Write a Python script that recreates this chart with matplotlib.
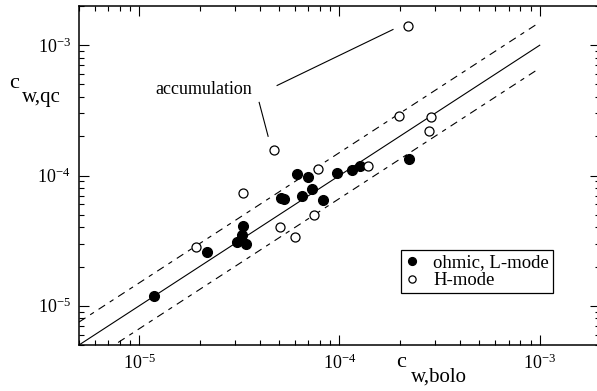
import matplotlib
matplotlib.use('Agg')
import matplotlib.pyplot as plt
from matplotlib.ticker import LogLocator, NullFormatter, FixedFormatter
import numpy as np

plt.rcParams['font.family'] = ['Liberation Serif', 'DejaVu Serif']
plt.rcParams['mathtext.fontset'] = 'custom'
plt.rcParams['mathtext.rm'] = 'Liberation Serif'
plt.rcParams['mathtext.it'] = 'Liberation Serif:italic'

# ohmic, L-mode (filled)
ohm_bolo = [1.19e-5, 2.19e-5, 3.30e-5, 3.25e-5, 3.09e-5, 3.42e-5, 5.11e-5, 5.31e-5,
            6.16e-5, 6.93e-5, 6.52e-5, 7.31e-5, 8.25e-5, 9.68e-5, 1.16e-4, 1.26e-4, 2.22e-4]
ohm_qc = [1.18e-5, 2.61e-5, 4.13e-5, 3.52e-5, 3.08e-5, 2.97e-5, 6.68e-5, 6.65e-5,
          1.02e-4, 9.8e-5, 6.97e-5, 7.83e-5, 6.46e-5, 1.05e-4, 1.10e-4, 1.19e-4, 1.35e-4]

# H-mode (open)
h_bolo = [1.92e-5, 3.31e-5, 4.71e-5, 5.07e-5, 5.98e-5, 7.46e-5, 7.78e-5, 1.38e-4,
          1.98e-4, 2.86e-4, 2.79e-4, 2.19e-4]
h_qc = [2.85e-5, 7.31e-5, 1.56e-4, 4.06e-5, 3.39e-5, 4.98e-5, 1.13e-4, 1.18e-4,
        2.86e-4, 2.81e-4, 2.19e-4, 1.40e-3]

# reference lines y = x and y = x*1.5, x/1.5
ref_x = np.array([5e-6, 1e-3])
band = 1.5

# annotation leader lines
lead1_x = [3.97e-5, 4.40e-5]
lead1_y = [3.64e-4, 2.0e-4]
lead2_x = [4.88e-5, 1.85e-4]
lead2_y = [4.91e-4, 1.32e-3]
note_xy = (2.11e-5, 4.58e-4)

W, H = 597, 391
fig = plt.figure(figsize=(W / 100, H / 100), dpi=100)
ax = fig.add_axes([79 / W, (H - 345) / H, 521 / W, 339 / H])
ax.set_xscale('log')
ax.set_yscale('log')
ax.set_xlim(5e-6, 2e-3)
ax.set_ylim(5e-6, 2e-3)

ax.plot(ref_x, ref_x, 'k-', lw=0.8)
ax.plot(ref_x, ref_x * band, 'k', lw=0.8, dashes=(7, 5, 4, 5))
ax.plot(ref_x, ref_x / band, 'k', lw=0.8, dashes=(7, 5, 4, 5))

ax.plot(ohm_bolo, ohm_qc, 'o', color='k', ms=7, ls='none', label='ohmic, L-mode')
ax.plot(h_bolo, h_qc, 'o', mfc='white', mec='k', mew=0.9, ms=6.5, ls='none', label='H-mode')

ax.plot(lead1_x, lead1_y, 'k-', lw=0.8)
ax.plot(lead2_x, lead2_y, 'k-', lw=0.8)
ax.text(note_xy[0], note_xy[1], 'accumulation', fontsize=13, ha='center', va='center')

for a in (ax.xaxis, ax.yaxis):
    a.set_major_locator(LogLocator(base=10, numticks=10))
    a.set_minor_locator(LogLocator(base=10, subs=np.arange(2, 10), numticks=20))
    a.set_minor_formatter(NullFormatter())
ax.set_xticks([1e-5, 1e-4, 1e-3])
ax.set_yticks([1e-5, 1e-4, 1e-3])
ax.xaxis.set_major_formatter(FixedFormatter([r'$10^{-5}$', r'$10^{-4}$', r'$10^{-3}$']))
ax.yaxis.set_major_formatter(FixedFormatter([r'$10^{-5}$', r'$10^{-4}$', r'$10^{-3}$']))
ax.tick_params(which='both', direction='in', top=True, right=True, labelsize=13, width=0.8)
ax.tick_params(which='major', length=7, pad=6)
ax.tick_params(which='minor', length=3.5)
for s in ax.spines.values():
    s.set_linewidth(1.1)

# axis labels: big "c" with lowered subscript
fig.text(9 / W, 1 - 88 / H, 'c', fontsize=16, ha='left', va='baseline')
fig.text(22 / W, 1 - 102 / H, 'w,qc', fontsize=15, ha='left', va='baseline')
fig.text(396 / W, 1 - 367 / H, 'c', fontsize=16, ha='left', va='baseline')
fig.text(411 / W, 1 - 382 / H, 'w,bolo', fontsize=15, ha='left', va='baseline')

leg = ax.legend(loc='upper left', bbox_to_anchor=(401 / W, 1 - 250 / H),
                bbox_transform=fig.transFigure, borderaxespad=0, fontsize=13.5,
                fancybox=False, framealpha=1, edgecolor='k', handlelength=0.7,
                handletextpad=0.8, borderpad=0.22, labelspacing=0.05, markerscale=0.8)
leg.get_frame().set_linewidth(0.9)

plt.savefig('out.png', dpi=100)
